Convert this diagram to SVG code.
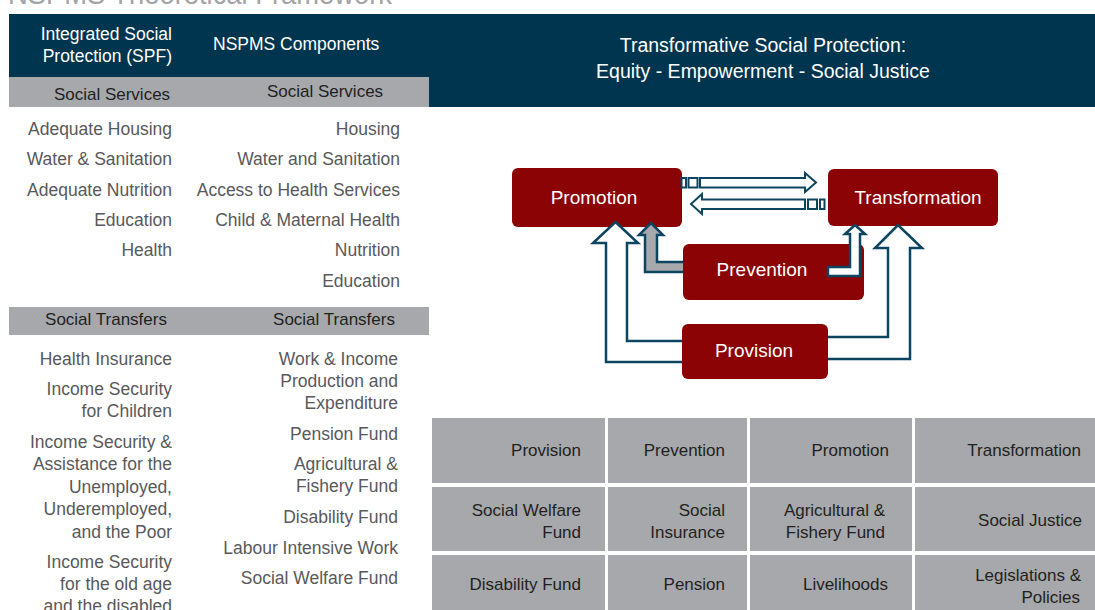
<svg xmlns="http://www.w3.org/2000/svg" width="1095" height="610" viewBox="0 0 1095 610">
  <style>
    text { font-family: "Liberation Sans", Arial, sans-serif; }
    .title { font-size: 29px; fill: #a3a4a6; }
    .hdr { font-size: 17.5px; fill: #ffffff; }
    .bar { font-size: 17px; fill: #1f1f1f; }
    .item { font-size: 17.5px; fill: #58595b; text-anchor: end; }
    .node-box { fill: #8b0304; }
    .node-label { font-size: 19px; fill: #ffffff; text-anchor: middle; }
    .cell { fill: #a6a8ab; }
    .cell-text { font-size: 17px; fill: #231f20; text-anchor: end; }
    .arrow { fill: #ffffff; stroke: #0d4460; stroke-width: 2.5; stroke-linejoin: miter; }
    .arrow-grey { fill: #a6a8ab; stroke: #0d4460; stroke-width: 2.5; }
  </style>

  <rect width="1095" height="610" fill="#ffffff"/>

  <!-- page title (clipped at the top edge) -->
  <text class="title" x="8" y="4" textLength="384" lengthAdjust="spacingAndGlyphs">NSPMS Theoretical Framework</text>

  <!-- header bands -->
  <rect x="9" y="14" width="1086" height="63" fill="#00354f"/>
  <rect x="429" y="14" width="666" height="93" fill="#00354f"/>
  <rect x="9" y="77" width="420" height="30" fill="#a6a8ab"/>
  <rect x="9" y="307" width="420" height="28" fill="#a6a8ab"/>

  <g id="left-headers">
    <text class="hdr" x="172" y="40" text-anchor="end">Integrated Social</text>
    <text class="hdr" x="172" y="62" text-anchor="end">Protection (SPF)</text>
    <text class="hdr" x="213" y="50">NSPMS Components</text>
    <text class="bar" x="112" y="100" text-anchor="middle">Social Services</text>
    <text class="bar" x="325" y="97" text-anchor="middle">Social Services</text>
    <text class="bar" x="106" y="325" text-anchor="middle">Social Transfers</text>
    <text class="bar" x="334" y="325" text-anchor="middle">Social Transfers</text>
  </g>

  <g id="spf-services">
    <text class="item" x="172" y="135">Adequate Housing</text>
    <text class="item" x="172" y="165">Water &amp; Sanitation</text>
    <text class="item" x="172" y="196">Adequate Nutrition</text>
    <text class="item" x="172" y="226">Education</text>
    <text class="item" x="172" y="256">Health</text>
  </g>

  <g id="nspms-services">
    <text class="item" x="400" y="135">Housing</text>
    <text class="item" x="400" y="165">Water and Sanitation</text>
    <text class="item" x="400" y="196">Access to Health Services</text>
    <text class="item" x="400" y="226">Child &amp; Maternal Health</text>
    <text class="item" x="400" y="256">Nutrition</text>
    <text class="item" x="400" y="287">Education</text>
  </g>

  <g id="spf-transfers">
    <text class="item" x="172" y="365">Health Insurance</text>
    <text class="item" x="172" y="395">Income Security</text>
    <text class="item" x="172" y="417">for Children</text>
    <text class="item" x="172" y="448">Income Security &amp;</text>
    <text class="item" x="172" y="470">Assistance for the</text>
    <text class="item" x="172" y="493">Unemployed,</text>
    <text class="item" x="172" y="515">Underemployed,</text>
    <text class="item" x="172" y="538">and the Poor</text>
    <text class="item" x="172" y="568">Income Security</text>
    <text class="item" x="172" y="590">for the old age</text>
    <text class="item" x="172" y="612">and the disabled</text>
  </g>

  <g id="nspms-transfers">
    <text class="item" x="398" y="365">Work &amp; Income</text>
    <text class="item" x="398" y="387">Production and</text>
    <text class="item" x="398" y="409">Expenditure</text>
    <text class="item" x="398" y="440">Pension Fund</text>
    <text class="item" x="398" y="470">Agricultural &amp;</text>
    <text class="item" x="398" y="492">Fishery Fund</text>
    <text class="item" x="398" y="523">Disability Fund</text>
    <text class="item" x="398" y="554">Labour Intensive Work</text>
    <text class="item" x="398" y="584">Social Welfare Fund</text>
  </g>

  <g id="tsp-header">
    <text class="hdr" x="763" y="52" text-anchor="middle" style="font-size:19.5px">Transformative Social Protection:</text>
    <text class="hdr" x="763" y="78" text-anchor="middle" style="font-size:19.5px">Equity - Empowerment - Social Justice</text>
  </g>

  <!-- boxes -->
  <g id="promotion">
    <rect class="node-box" x="512" y="168" width="170" height="59" rx="6"/>
    <text class="node-label" x="594" y="204">Promotion</text>
  </g>
  <g id="transformation">
    <rect class="node-box" x="828" y="169" width="170" height="57" rx="6"/>
    <text class="node-label" x="918" y="204">Transformation</text>
  </g>
  <g id="prevention">
    <rect class="node-box" x="683" y="244" width="181" height="56" rx="6"/>
    <text class="node-label" x="762" y="276">Prevention</text>
  </g>
  <g id="provision">
    <rect class="node-box" x="682" y="324" width="146" height="55" rx="6"/>
    <text class="node-label" x="754" y="357">Provision</text>
  </g>

  <!-- block arrows between the boxes -->
  <g id="connectors">
    <!-- Promotion to Transformation -->
    <rect class="arrow" x="681.5" y="178" width="4.5" height="9.5" style="stroke-width:2"/>
    <rect class="arrow" x="688.5" y="178" width="9" height="9.5" style="stroke-width:2"/>
    <path class="arrow" d="M700,178 L805,178 L805,173 L816,182.5 L805,192 L805,187.5 L700,187.5 Z" style="stroke-width:2"/>
    <!-- Transformation to Promotion -->
    <path class="arrow" d="M805,199.5 L702,199.5 L702,194 L691,204 L702,214 L702,209 L805,209 Z" style="stroke-width:2"/>
    <rect class="arrow" x="808" y="199.5" width="9" height="9.5" style="stroke-width:2"/>
    <rect class="arrow" x="820" y="199.5" width="4.5" height="9.5" style="stroke-width:2"/>
    <!-- Provision to Promotion -->
    <path class="arrow" d="M682,341 L627,341 L627,243 L638,243 L615.5,222 L593,243 L606,243 L606,362 L682,362"/>
    <!-- Provision to Transformation -->
    <path class="arrow" d="M828,337 L888,337 L888,248 L875,248 L898,225 L922,248 L910,248 L910,359 L828,359"/>
    <!-- Prevention to Promotion -->
    <path class="arrow-grey" d="M683,262 L657,262 L657,235 L663,235 L651,223 L639,235 L645,235 L645,272 L683,272"/>
    <!-- Prevention to Transformation -->
    <path class="arrow" d="M828,267 L850,267 L850,234 L845,234 L855,225 L865,234 L860,234 L860,276 L828,276 Z"/>
  </g>

  <!-- component table -->
  <g id="table">
    <rect class="cell" x="432" y="418" width="173" height="65"/>
    <rect class="cell" x="608" y="418" width="139" height="65"/>
    <rect class="cell" x="750" y="418" width="162" height="65"/>
    <rect class="cell" x="915" y="418" width="180" height="65"/>
    <rect class="cell" x="432" y="487" width="173" height="64"/>
    <rect class="cell" x="608" y="487" width="139" height="64"/>
    <rect class="cell" x="750" y="487" width="162" height="64"/>
    <rect class="cell" x="915" y="487" width="180" height="64"/>
    <rect class="cell" x="432" y="555" width="173" height="55"/>
    <rect class="cell" x="608" y="555" width="139" height="55"/>
    <rect class="cell" x="750" y="555" width="162" height="55"/>
    <rect class="cell" x="915" y="555" width="180" height="55"/>

    <text class="cell-text" x="581" y="456">Provision</text>
    <text class="cell-text" x="725" y="456">Prevention</text>
    <text class="cell-text" x="889" y="456">Promotion</text>
    <text class="cell-text" x="1081" y="456">Transformation</text>

    <text class="cell-text" x="581" y="516">Social Welfare</text>
    <text class="cell-text" x="581" y="538">Fund</text>
    <text class="cell-text" x="725" y="516">Social</text>
    <text class="cell-text" x="725" y="538">Insurance</text>
    <text class="cell-text" x="885" y="516">Agricultural &amp;</text>
    <text class="cell-text" x="885" y="538">Fishery Fund</text>
    <text class="cell-text" x="1082" y="526">Social Justice</text>

    <text class="cell-text" x="581" y="590">Disability Fund</text>
    <text class="cell-text" x="725" y="590">Pension</text>
    <text class="cell-text" x="888" y="590">Livelihoods</text>
    <text class="cell-text" x="1081" y="581">Legislations &amp;</text>
    <text class="cell-text" x="1080" y="603">Policies</text>
  </g>
</svg>
